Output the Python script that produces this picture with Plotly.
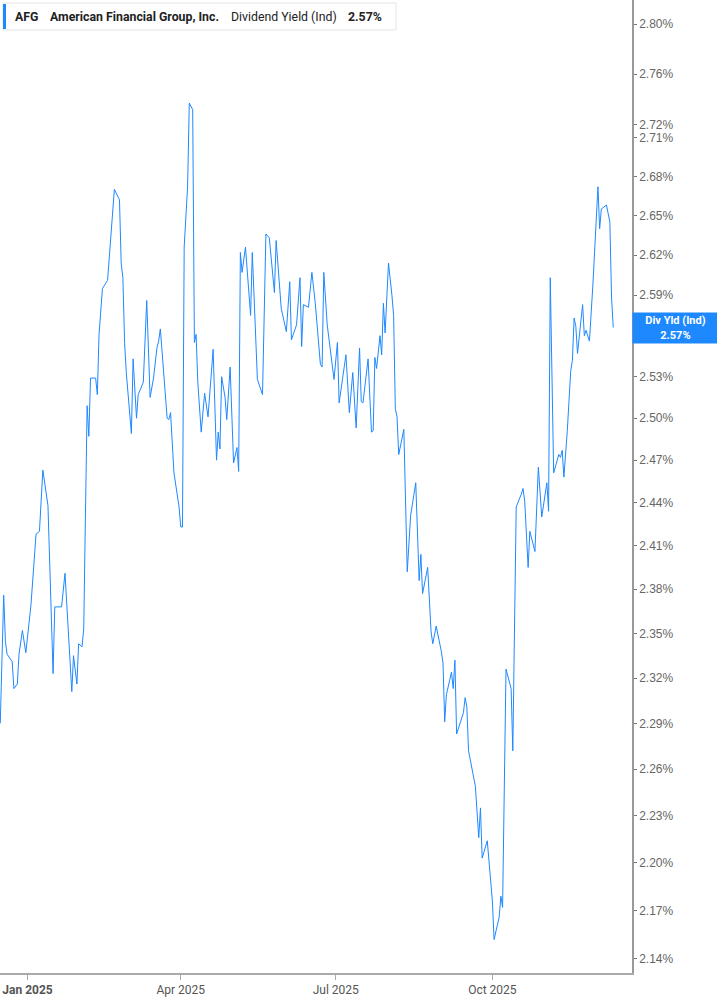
import numpy as np
import plotly.graph_objects as go

# dividend yield (%)
dates = [
    "2024-12-16", "2024-12-18", "2024-12-19", "2024-12-20", "2024-12-23", "2024-12-24",
    "2024-12-26", "2024-12-27", "2024-12-29", "2024-12-31", "2025-01-03", "2025-01-06",
    "2025-01-08", "2025-01-10", "2025-01-13", "2025-01-16", "2025-01-17", "2025-01-21",
    "2025-01-23", "2025-01-27", "2025-01-28", "2025-01-30", "2025-01-31", "2025-02-02",
    "2025-02-03", "2025-02-05", "2025-02-06", "2025-02-07", "2025-02-10", "2025-02-11",
    "2025-02-12", "2025-02-14", "2025-02-17", "2025-02-21", "2025-02-24", "2025-02-25",
    "2025-02-26", "2025-02-27", "2025-02-28", "2025-03-03", "2025-03-04", "2025-03-06",
    "2025-03-07", "2025-03-10", "2025-03-12", "2025-03-14", "2025-03-16", "2025-03-18",
    "2025-03-19", "2025-03-20", "2025-03-24", "2025-03-25", "2025-03-26", "2025-03-28",
    "2025-03-31", "2025-04-01", "2025-04-02", "2025-04-03", "2025-04-05", "2025-04-06",
    "2025-04-08", "2025-04-09", "2025-04-10", "2025-04-11", "2025-04-13", "2025-04-15",
    "2025-04-17", "2025-04-20", "2025-04-22", "2025-04-23", "2025-04-24", "2025-04-25",
    "2025-04-27", "2025-04-28", "2025-04-30", "2025-05-02", "2025-05-04", "2025-05-05",
    "2025-05-06", "2025-05-07", "2025-05-09", "2025-05-12", "2025-05-13", "2025-05-16",
    "2025-05-19", "2025-05-21", "2025-05-23", "2025-05-26", "2025-05-27", "2025-05-30",
    "2025-06-02", "2025-06-04", "2025-06-05", "2025-06-08", "2025-06-10", "2025-06-11",
    "2025-06-12", "2025-06-15", "2025-06-17", "2025-06-19", "2025-06-22", "2025-06-23",
    "2025-06-24", "2025-06-26", "2025-06-30", "2025-07-02", "2025-07-03", "2025-07-07",
    "2025-07-09", "2025-07-11", "2025-07-13", "2025-07-15", "2025-07-16", "2025-07-17",
    "2025-07-20", "2025-07-22", "2025-07-23", "2025-07-24", "2025-07-25", "2025-07-27",
    "2025-07-28", "2025-07-29", "2025-07-30", "2025-08-01", "2025-08-03", "2025-08-04",
    "2025-08-05", "2025-08-06", "2025-08-07", "2025-08-10", "2025-08-12", "2025-08-14",
    "2025-08-17", "2025-08-19", "2025-08-20", "2025-08-21", "2025-08-24", "2025-08-26",
    "2025-08-27", "2025-08-29", "2025-09-01", "2025-09-02", "2025-09-03", "2025-09-04",
    "2025-09-07", "2025-09-08", "2025-09-09", "2025-09-10", "2025-09-14", "2025-09-15",
    "2025-09-16", "2025-09-17", "2025-09-21", "2025-09-23", "2025-09-24", "2025-09-25",
    "2025-09-28", "2025-09-30", "2025-10-01", "2025-10-02", "2025-10-05", "2025-10-06",
    "2025-10-07", "2025-10-09", "2025-10-12", "2025-10-13", "2025-10-15", "2025-10-18",
    "2025-10-19", "2025-10-20", "2025-10-22", "2025-10-23", "2025-10-26", "2025-10-28",
    "2025-10-30", "2025-11-02", "2025-11-03", "2025-11-04", "2025-11-06", "2025-11-09",
    "2025-11-10", "2025-11-11", "2025-11-12", "2025-11-14", "2025-11-16", "2025-11-17",
    "2025-11-18", "2025-11-19", "2025-11-20", "2025-11-23", "2025-11-24", "2025-11-25",
    "2025-11-27", "2025-11-29", "2025-12-02", "2025-12-03", "2025-12-04", "2025-12-07",
    "2025-12-09", "2025-12-10", "2025-12-11",
]
div_yield = [
    2.290, 2.376, 2.345, 2.336, 2.331, 2.313,
    2.316, 2.336, 2.352, 2.337, 2.369, 2.418,
    2.420, 2.463, 2.438, 2.323, 2.368, 2.368,
    2.391, 2.311, 2.335, 2.316, 2.343, 2.341,
    2.353, 2.509, 2.487, 2.529, 2.529, 2.517,
    2.561, 2.595, 2.601, 2.670, 2.662, 2.614,
    2.603, 2.555, 2.533, 2.489, 2.543, 2.500,
    2.517, 2.526, 2.586, 2.515, 2.529, 2.551,
    2.556, 2.565, 2.500, 2.499, 2.504, 2.461,
    2.437, 2.423, 2.423, 2.626, 2.672, 2.737,
    2.732, 2.555, 2.561, 2.526, 2.490, 2.518,
    2.501, 2.550, 2.470, 2.490, 2.478, 2.530,
    2.515, 2.499, 2.537, 2.468, 2.479, 2.462,
    2.622, 2.607, 2.626, 2.575, 2.622, 2.528,
    2.517, 2.636, 2.633, 2.592, 2.631, 2.580,
    2.563, 2.600, 2.557, 2.568, 2.603, 2.552,
    2.583, 2.581, 2.607, 2.584, 2.539, 2.537,
    2.607, 2.568, 2.528, 2.555, 2.511, 2.546,
    2.504, 2.533, 2.493, 2.551, 2.512, 2.511,
    2.543, 2.490, 2.491, 2.544, 2.536, 2.560,
    2.546, 2.584, 2.562, 2.614, 2.590, 2.575,
    2.507, 2.501, 2.474, 2.492, 2.392, 2.431,
    2.454, 2.386, 2.404, 2.377, 2.395, 2.351,
    2.343, 2.355, 2.338, 2.330, 2.291, 2.309,
    2.324, 2.313, 2.332, 2.283, 2.297, 2.307,
    2.301, 2.272, 2.249, 2.216, 2.235, 2.203,
    2.214, 2.190, 2.176, 2.152, 2.166, 2.179,
    2.172, 2.326, 2.313, 2.272, 2.437, 2.446,
    2.450, 2.441, 2.395, 2.420, 2.406, 2.465,
    2.430, 2.454, 2.434, 2.603, 2.461, 2.474,
    2.472, 2.477, 2.458, 2.491, 2.534, 2.542,
    2.573, 2.567, 2.547, 2.583, 2.560, 2.564,
    2.556, 2.597, 2.672, 2.640, 2.655, 2.658,
    2.645, 2.588, 2.566,
]

# 2.56% sits under the value tag in the original, so it is left out here
y_ticks = [2.80, 2.76, 2.72, 2.71, 2.68, 2.65, 2.62, 2.59, 2.53, 2.50, 2.47,
           2.44, 2.41, 2.38, 2.35, 2.32, 2.29, 2.26, 2.23, 2.20, 2.17, 2.14]
x_ticks = ["2025-01-01", "2025-04-01", "2025-07-01", "2025-10-01"]
x_labels = ["<b>Jan 2025</b>", "Apr 2025", "Jul 2025", "Oct 2025"]

blue = "#1e88ff"

fig = go.Figure()
fig.add_trace(go.Scatter(
    x=dates, y=div_yield, mode="lines",
    line=dict(color=blue, width=1),
    showlegend=False, hoverinfo="skip",
))

fig.update_layout(
    width=717, height=1005,
    margin=dict(l=0, r=85, t=0, b=32),
    paper_bgcolor="white", plot_bgcolor="white",
    font=dict(family="Roboto, Liberation Sans, sans-serif", color="#555"),
    xaxis=dict(
        range=["2024-12-15 20:00", "2025-12-22"],
        tickvals=x_ticks, ticktext=x_labels,
        showgrid=False, zeroline=False,
        showline=True, linecolor="#aaa", linewidth=1.5,
        ticks="outside", ticklen=5, tickcolor="#aaa",
        tickfont=dict(size=12, color="#555"),
    ),
    yaxis=dict(
        type="log", side="right",
        range=[np.log10(2.1314), np.log10(2.8194)],
        tickvals=y_ticks, ticktext=[f"{v:.2f}%" for v in y_ticks],
        showgrid=False, zeroline=False,
        showline=True, linecolor="#999", linewidth=1.5,
        ticks="outside", ticklen=3, tickcolor="#777",
        tickfont=dict(size=12, color="#666", family="Liberation Sans, Arial, sans-serif"),
    ),
)

# header box (top left)
fig.add_shape(type="rect", xref="paper", yref="paper",
              x0=3 / 632, x1=396 / 632, y0=1 - 30 / 973, y1=1 - 3 / 973,
              line=dict(color="#e3e3e3", width=1), fillcolor="white", layer="above")
fig.add_shape(type="rect", xref="paper", yref="paper",
              x0=3 / 632, x1=6 / 632, y0=1 - 29 / 973, y1=1 - 4 / 973,
              line=dict(width=0), fillcolor=blue, layer="above")

header = [
    (13, "<b>AFG</b>"),
    (48, "<b>American Financial Group, Inc.</b>"),
    (229, "Dividend Yield (Ind)"),
    (346, "<b>2.57%</b>"),
]
for px, txt in header:
    fig.add_annotation(x=px / 632, y=1 - 16.5 / 973, xref="paper", yref="paper",
                       text=txt, showarrow=False, xanchor="left", yanchor="middle",
                       font=dict(size=12.3, color="#222", family="Roboto, sans-serif"))

# value tag on the right axis
fig.add_annotation(x=1, y=np.log10(div_yield[-1]), xref="paper", yref="y",
                   text="<b>Div Yld (Ind)</b><br><b>2.57%</b>", showarrow=False,
                   xanchor="left", yanchor="middle", align="center",
                   width=81, height=26, bgcolor=blue, borderpad=2,
                   font=dict(size=11, color="white", family="Roboto, sans-serif"))

# drop the default 8px page margin so the figure sits flush in the window
fig.write_html("out.html", config={"displayModeBar": False},
               post_script="document.body.style.margin='0';")
